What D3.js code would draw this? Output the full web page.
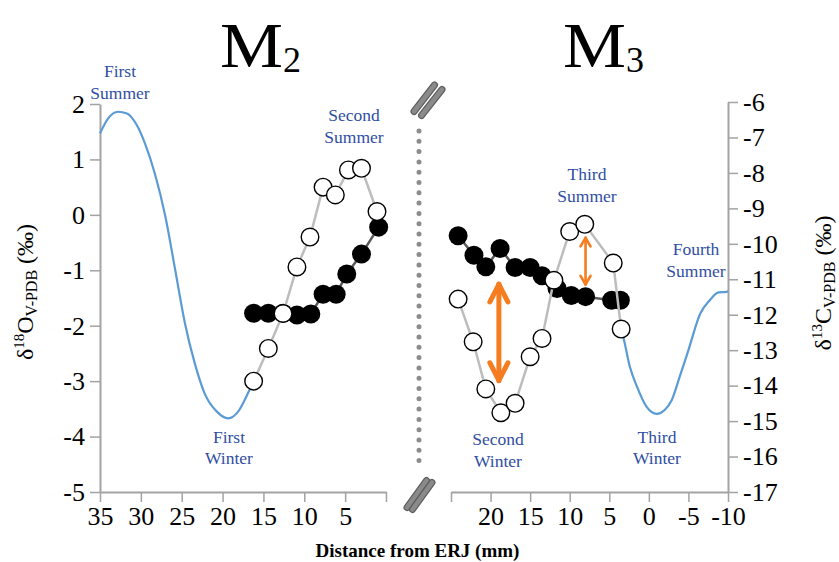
<!DOCTYPE html>
<html>
<head>
<meta charset="utf-8">
<script src="https://cdn.jsdelivr.net/npm/d3@7/dist/d3.min.js"></script>
<style>
  html, body { margin: 0; padding: 0; background: #fff; }
  svg { display: block; }
  text { font-family: "Liberation Serif", "Times New Roman", serif; }
</style>
</head>
<body>
<svg id="chart" width="839" height="562"></svg>
<script>
// ---------------- DATA ----------------
// Left y axis: delta18O (‰); right y axis: delta13C (‰); x: distance from ERJ (mm)
const leftYTicks  = [2, 1, 0, -1, -2, -3, -4, -5];
const rightYTicks = [-6, -7, -8, -9, -10, -11, -12, -13, -14, -15, -16, -17];
const m2XTicks = [35, 30, 25, 20, 15, 10, 5, 0];
const m3XTicks = [25, 20, 15, 10, 5, 0, -5, -10];

// M2 – open circles (δ18O)
const m2OpenX = [16.2, 14.4, 12.6, 10.9, 9.3, 7.7, 6.2, 4.6, 3.0, 1.1];
const m2OpenY = [-3.0, -2.41, -1.78, -0.94, -0.40, 0.50, 0.36, 0.81, 0.84, 0.06];
// M2 – filled circles (δ13C)
const m2FillX = [16.2, 14.4, 12.6, 10.9, 9.2, 7.7, 6.1, 4.8, 3.0, 0.9];
const m2FillY = [-11.96, -11.96, -11.96, -12.01, -11.98, -11.42, -11.42, -10.85, -10.29, -9.53];
// M2 – modelled δ18O curve
const m2CurveX = [35, 34.0, 32.8, 31.7, 30.5, 29.5, 28.3, 27.0, 25.8, 24.6, 23.4, 22.2, 20.7, 19.3, 18.1, 16.9, 16.2];
const m2CurveY = [1.47, 1.74, 1.86, 1.83, 1.62, 1.29, 0.75, -0.03, -0.99, -1.96, -2.68, -3.22, -3.55, -3.67, -3.55, -3.22, -3.0];

// M3 – open circles (δ18O)
const m3OpenX = [24.1, 22.2, 20.6, 18.7, 16.9, 15.0, 13.5, 12.0, 10.0, 8.1, 4.5, 3.5];
const m3OpenY = [-1.52, -2.29, -3.14, -3.57, -3.40, -2.56, -2.23, -1.18, -0.30, -0.17, -0.87, -2.06];
// M3 – filled circles (δ13C)
const m3FillX = [24.1, 22.1, 20.6, 18.8, 16.9, 15.0, 13.5, 11.6, 9.8, 8.0, 4.7, 3.6];
const m3FillY = [-9.77, -10.32, -10.65, -10.13, -10.67, -10.67, -10.90, -11.26, -11.46, -11.49, -11.59, -11.59];
// M3 – modelled δ18O curve
const m3CurveX = [3.5, 3.2, 2.4, 1.5, 0.3, -1.0, -2.0, -2.9, -3.9, -5.0, -6.5, -7.7, -8.8, -9.8, -10];
const m3CurveY = [-2.06, -2.22, -2.74, -3.10, -3.46, -3.59, -3.52, -3.34, -2.92, -2.44, -1.78, -1.54, -1.40, -1.39, -1.38];

// Orange amplitude arrows (M3 panel, δ18O scale)
const arrowX      = [18.95, 8.0];
const arrowTop    = [-1.21, -0.39];
const arrowBottom = [-3.03, -1.28];

// Season labels
const seasonLines = [["First", "Summer"], ["Second", "Summer"], ["First", "Winter"],
                     ["Third", "Summer"], ["Fourth", "Summer"], ["Second", "Winter"], ["Third", "Winter"]];

// ---------------- LAYOUT ----------------
const FONT = '"Liberation Serif", "Times New Roman", Times, serif';
const svg = d3.select("#chart");
const plotTopL = 104, plotTopR = 102, plotBottom = 492;
const xL = d3.scaleLinear().domain([35, 0]).range([100, 386]);
const xR = d3.scaleLinear().domain([25, -10]).range([451, 728]);
const yL = d3.scaleLinear().domain([-5, 2]).range([plotBottom, plotTopL]);
const yR = d3.scaleLinear().domain([-17, -6]).range([plotBottom, plotTopR]);

const axisColor = "#a3a3a3";
const tickFont = 26;
const fmt = d => String(d);   // plain hyphen-minus like the reference

function styleAxis(g) {
  g.attr("font-family", FONT).attr("font-size", tickFont);
  g.selectAll("path.domain").attr("stroke", axisColor).attr("stroke-width", 2);
  g.selectAll(".tick line").attr("stroke", axisColor).attr("stroke-width", 1.5);
  g.selectAll(".tick text").attr("fill", "#000")
    .style("font-family", FONT)
    .style("font-size", tickFont + "px");
}

// Left y axis
svg.append("g").attr("transform", "translate(100,0)")
  .call(d3.axisLeft(yL).tickValues(leftYTicks).tickSize(10).tickSizeOuter(0).tickPadding(5).tickFormat(fmt))
  .call(styleAxis);
// Right y axis
svg.append("g").attr("transform", "translate(728,0)")
  .call(d3.axisRight(yR).tickValues(rightYTicks).tickSize(10).tickSizeOuter(0).tickPadding(5).tickFormat(fmt))
  .call(styleAxis);
// Bottom axes
svg.append("g").attr("transform", `translate(0,${plotBottom})`)
  .call(d3.axisBottom(xL).tickValues(m2XTicks).tickSize(10).tickSizeOuter(0).tickPadding(5)
    .tickFormat(d => d === 0 ? "" : fmt(d)))
  .call(styleAxis);
svg.append("g").attr("transform", `translate(0,${plotBottom})`)
  .call(d3.axisBottom(xR).tickValues(m3XTicks).tickSize(10).tickSizeOuter(0).tickPadding(5)
    .tickFormat(d => d === 25 ? "" : fmt(d)))
  .call(styleAxis);

// ---------------- MARKS ----------------
const zip = (xs, ys) => xs.map((x, i) => [x, ys[i]]);

function drawPanel(xs, curve, fill, open) {
  // model curve
  svg.append("path")
    .attr("d", d3.line().x(d => xs(d[0])).y(d => yL(d[1])).curve(d3.curveMonotoneX)(curve))
    .attr("fill", "none").attr("stroke", "#5b9bd5").attr("stroke-width", 2.2);
  // filled series (δ13C)
  svg.append("path")
    .attr("d", d3.line().x(d => xs(d[0])).y(d => yR(d[1]))(fill))
    .attr("fill", "none").attr("stroke", "#595959").attr("stroke-width", 2.5);
  svg.append("g").selectAll("circle").data(fill).join("circle")
    .attr("cx", d => xs(d[0])).attr("cy", d => yR(d[1])).attr("r", 9.5)
    .attr("fill", "#000");
  // open series (δ18O)
  svg.append("path")
    .attr("d", d3.line().x(d => xs(d[0])).y(d => yL(d[1]))(open))
    .attr("fill", "none").attr("stroke", "#bdbdbd").attr("stroke-width", 2.5);
  svg.append("g").selectAll("circle").data(open).join("circle")
    .attr("cx", d => xs(d[0])).attr("cy", d => yL(d[1])).attr("r", 8.8)
    .attr("fill", "#fff").attr("stroke", "#000").attr("stroke-width", 1.4);
}

drawPanel(xL, zip(m2CurveX, m2CurveY), zip(m2FillX, m2FillY), zip(m2OpenX, m2OpenY));
drawPanel(xR, zip(m3CurveX, m3CurveY), zip(m3FillX, m3FillY), zip(m3OpenX, m3OpenY));

// Orange arrows
const arrowStyle = [{w: 5, hw: 9, hh: 20}, {w: 2.6, hw: 5, hh: 10}];
arrowX.forEach((ax, i) => {
  const x = xR(ax), y1 = yL(arrowTop[i]), y2 = yL(arrowBottom[i]);
  const s = arrowStyle[i];
  const g = svg.append("g").attr("fill", "none").attr("stroke", "#f57c1f")
    .attr("stroke-width", s.w).attr("stroke-linecap", "round").attr("stroke-linejoin", "round");
  g.append("line").attr("x1", x).attr("x2", x).attr("y1", y1 + s.w * 0.4).attr("y2", y2 - s.w * 0.4);
  g.append("path").attr("d", `M${x - s.hw},${y1 + s.hh} L${x},${y1 + s.w * 0.5} L${x + s.hw},${y1 + s.hh}`);
  g.append("path").attr("d", `M${x - s.hw},${y2 - s.hh} L${x},${y2 - s.w * 0.5} L${x + s.hw},${y2 - s.hh}`);
});

// Dotted separator
svg.append("line").attr("x1", 419).attr("x2", 419).attr("y1", 131).attr("y2", 461)
  .attr("stroke", "#8c8c8c").attr("stroke-width", 5).attr("stroke-linecap", "round")
  .attr("stroke-dasharray", "0 10.3");

// Axis-break marks
function breakMark(lines) {
  lines.forEach(l => {
    svg.append("line").attr("x1", l[0]).attr("y1", l[1]).attr("x2", l[2]).attr("y2", l[3])
      .attr("stroke", "#5e5e5e").attr("stroke-width", 7).attr("stroke-linecap", "round");
    svg.append("line").attr("x1", l[0]).attr("y1", l[1]).attr("x2", l[2]).attr("y2", l[3])
      .attr("stroke", "#8a8a8a").attr("stroke-width", 4.6).attr("stroke-linecap", "round");
  });
}
breakMark([[414, 111.5, 434.5, 85], [421.5, 115.5, 442, 89.5]]);
breakMark([[407, 507.5, 426.5, 480.5], [412.5, 509.5, 432, 482.5]]);

// ---------------- TEXT ----------------
const blue = "#2f4ea3";
const seasonPos = [[120, 77], [354, 121], [229, 442.5], [587, 180], [696, 255], [498, 445], [657, 442.5]];
seasonLines.forEach((lines, i) => {
  const t = svg.append("text").attr("text-anchor", "middle").attr("fill", blue)
    .style("font-family", FONT).style("font-size", "17.5px");
  lines.forEach((ln, j) => {
    t.append("tspan").attr("x", seasonPos[i][0]).attr("y", seasonPos[i][1] + j * 21.5).text(ln);
  });
});

// Panel titles
function panelTitle(x, sub) {
  svg.append("text").attr("x", x).attr("y", 67).style("font-family", FONT).style("font-size", "64px")
    .attr("textLength", 63).attr("lengthAdjust", "spacingAndGlyphs").text("M");
  svg.append("text").attr("x", x + 63).attr("y", 72).style("font-family", FONT).style("font-size", "36px").text(sub);
}
panelTitle(220, "2");
panelTitle(563, "3");

// Y titles
function yTitle(cx, cy, iso, el) {
  const t = svg.append("text").attr("transform", `translate(${cx},${cy}) rotate(-90)`)
    .attr("text-anchor", "middle").attr("fill", "#000")
    .style("font-family", FONT).style("font-size", "24px");
  t.append("tspan").text("δ");
  t.append("tspan").attr("dy", -9).style("font-size", "15px").text(iso);
  t.append("tspan").attr("dy", 9).text(el);
  t.append("tspan").attr("dy", 4).style("font-size", "16px").text("V-PDB");
  t.append("tspan").attr("dy", -4).text(" (‰)");
}
yTitle(33, 292, "18", "O");
yTitle(831, 283, "13", "C");

// X title
svg.append("text").attr("x", 417.5).attr("y", 557).attr("text-anchor", "middle")
  .style("font-family", FONT).style("font-size", "19px").style("font-weight", "bold")
  .text("Distance from ERJ (mm)");
</script>
</body>
</html>
